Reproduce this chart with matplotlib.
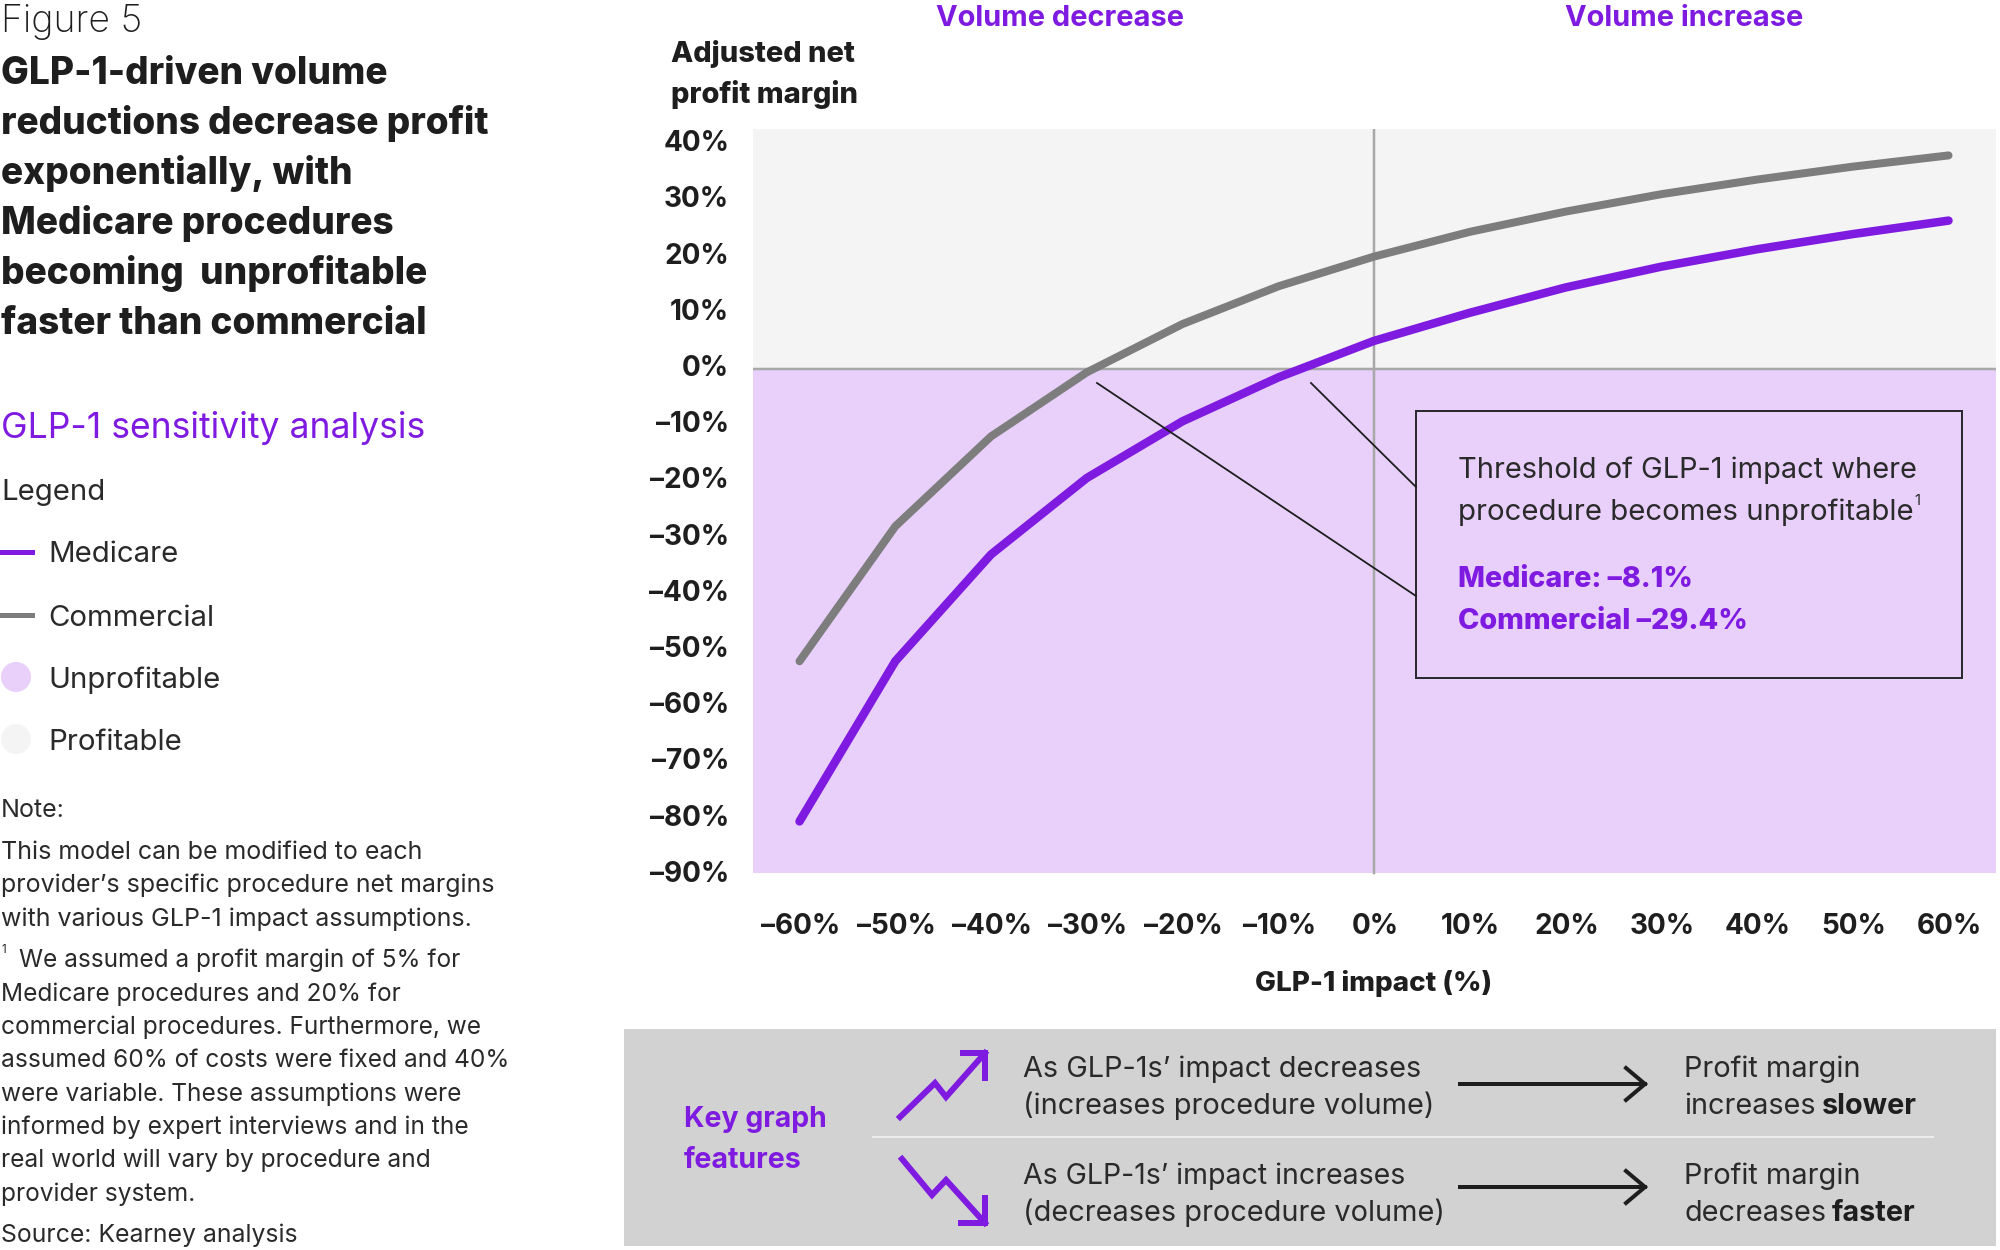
import matplotlib
matplotlib.use("Agg")
import matplotlib.pyplot as plt
from matplotlib.lines import Line2D
from matplotlib.patches import Rectangle, Circle
from matplotlib.transforms import ScaledTranslation

# Series read as percent margin against percent change in volume
impact = [-60, -50, -40, -30, -20, -10, 0, 10, 20, 30, 40, 50, 60]
medicare = [-80.5, -52.0, -33.0, -19.4, -9.3, -1.5, 5.0, 10.0, 14.5, 18.2, 21.3, 24.0, 26.4]
commercial = [-52.0, -28.0, -12.0, -0.6, 8.0, 14.7, 20.0, 24.4, 28.0, 31.1, 33.7, 36.0, 38.0]
x_labels = ["–60%", "–50%", "–40%", "–30%", "–20%", "–10%", "0%", "10%", "20%",
            "30%", "40%", "50%", "60%"]
y_ticks = [40, 30, 20, 10, 0, -10, -20, -30, -40, -50, -60, -70, -80, -90]
y_labels = ["40%", "30%", "20%", "10%", "0%", "–10%", "–20%", "–30%", "–40%", "–50%",
            "–60%", "–70%", "–80%", "–90%"]

title_lines = ["GLP-1-driven volume", "reductions decrease profit", "exponentially, with",
               "Medicare procedures", "becoming  unprofitable", "faster than commercial"]
note_lines = ["This model can be modified to each", "provider’s specific procedure net margins",
              "with various GLP-1 impact assumptions."]
footnote_lines = ["Medicare procedures and 20% for", "commercial procedures. Furthermore, we",
                  "assumed 60% of costs were fixed and 40%", "were variable. These assumptions were",
                  "informed by expert interviews and in the", "real world will vary by procedure and",
                  "provider system."]

PURPLE = "#7f1ae0"
INK = "#1e1e1e"
BODY_INK = "#2a2a2a"
GREY_LINE = "#7d7d7d"
UNPROFIT = "#e8d0fb"
PROFIT = "#f4f4f4"
PANEL = "#d2d2d2"
RULE = "#a8a8a8"
FONT = "Inter"
BODY = "normal"

W, H = 2000, 1250
fig = plt.figure(figsize=(W / 100, H / 100), dpi=100, facecolor="white")

# Full-figure layer measured in pixels for text blocks and callouts
page = fig.add_axes([0, 0, 1, 1], zorder=3)
page.set_xlim(0, W)
page.set_ylim(H, 0)
page.axis("off")
page.patch.set_alpha(0)


def px(v):
    return v * 0.72


def label(x, y, s, size, weight="normal", color=None, ha="left"):
    if color is None:
        color = BODY_INK if weight == BODY else INK
    page.text(x, y, s, fontsize=px(size), fontweight=weight, color=color, ha=ha,
              va="baseline", family=FONT)


def path(xs, ys, width, color=INK, **kw):
    page.add_line(Line2D(xs, ys, lw=px(width), color=color, **kw))


# Main chart; the axes run to -90 so that tick is kept, the shaded area stops just short of it
left, right, top, bottom = 753, 1996, 129, 874.8
ax = fig.add_axes([left / W, 1 - bottom / H, (right - left) / W, (bottom - top) / H], zorder=1)
ax.axhspan(0, 42.7, color=PROFIT, lw=0)
ax.axhspan(-89.6, 0, color=UNPROFIT, lw=0)
ax.axhline(0, color=RULE, lw=px(2.5))
ax.plot([0, 0], [-89.6, 42.7], color=RULE, lw=px(2.5))
ax.plot(impact, commercial, color=GREY_LINE, lw=px(8), solid_joinstyle="miter", solid_capstyle="round")
ax.plot(impact, medicare, color=PURPLE, lw=px(8.5), solid_joinstyle="miter", solid_capstyle="round")
for s in ax.spines.values():
    s.set_visible(False)
ax.set_xticks(impact, x_labels)
ax.set_yticks(y_ticks, y_labels)
ax.set_xlim(-64.86, 64.96)
ax.set_ylim(-90, 42.7)
ax.tick_params(length=0)
for t in ax.get_xticklabels():
    t.set(fontsize=px(28), fontweight="bold", family=FONT, color=INK, va="baseline")
    t.set_transform(t.get_transform() + ScaledTranslation(0.01, -0.54, fig.dpi_scale_trans))
for t in ax.get_yticklabels():
    t.set(fontsize=px(28), fontweight="bold", family=FONT, color=INK, va="baseline", ha="right")
    t.set_transform(t.get_transform() + ScaledTranslation(-0.19, -0.07, fig.dpi_scale_trans))

# Headings around the plot
label(1060, 26, "Volume decrease", 29, "bold", PURPLE, "center")
label(1684, 26, "Volume increase", 29, "bold", PURPLE, "center")
label(671, 62, "Adjusted net", 29, "heavy")
label(671, 103, "profit margin", 29, "heavy")
label(1374, 991, "GLP-1 impact (%)", 27.8, "heavy", INK, "center")

# Callout box and leaders
page.add_patch(Rectangle((1416, 411), 546, 267, fill=False, ec="#2a2a30", lw=px(2)))
path([1311, 1416], [383, 487], 1.8)
path([1097, 1416], [383, 596], 1.8)
label(1458, 478, "Threshold of GLP-1 impact where", 29.0, BODY)
label(1458, 520, "procedure becomes unprofitable", 29.3, BODY)
label(1914, 505, "1", 15, BODY)
label(1458, 587, "Medicare: –8.1%", 28.6, "heavy", PURPLE)
label(1458, 629, "Commercial –29.4%", 28.8, "heavy", PURPLE)

# Left column
label(1, 32, "Figure 5", 37.5, "light")
for i, line in enumerate(title_lines):
    label(1, 84 + i * 50, line, 37, "heavy")
label(1, 438, "GLP-1 sensitivity analysis", 35.6, BODY, PURPLE)
label(1, 500, "Legend", 29.4, BODY)
legend_y = [552, 615, 677, 739]
legend_names = ["Medicare", "Commercial", "Unprofitable", "Profitable"]
for y, name in zip(legend_y, legend_names):
    label(48, y + 10.5, name, 29.4, BODY)
path([2, 32], [552, 552], 5, PURPLE)
path([2, 32], [615, 615], 5, GREY_LINE)
page.add_patch(Circle((16, 677), 15, fc=UNPROFIT, ec="none"))
page.add_patch(Circle((16, 739), 15, fc=PROFIT, ec="none"))

label(1, 817, "Note:", 25, BODY)
for y, line in zip([859, 892, 926], note_lines):
    label(1, y, line, 25, BODY)
label(1, 953, "1", 12, BODY)
label(19, 967, "We assumed a profit margin of 5% for", 24.4, BODY)
for y, line in zip([1001, 1034, 1067, 1101, 1134, 1167, 1201], footnote_lines):
    label(1, y, line, 24.5, BODY)
label(1, 1242, "Source: Kearney analysis", 24.8, BODY)

# Key features strip
page.add_patch(Rectangle((624, 1029), 1372, 217, fc=PANEL, ec="none", zorder=0))
path([873, 1933], [1137, 1137], 2, "#ececec")
label(684, 1127, "Key graph", 28.4, "bold", PURPLE)
label(684, 1168, "features", 28.6, "bold", PURPLE)

path([900, 935, 946, 985], [1117, 1083, 1097, 1053], 6, PURPLE, solid_joinstyle="miter")
path([963, 985, 985], [1053, 1053, 1078], 6, PURPLE, solid_joinstyle="miter")
path([902, 932, 946, 985], [1159, 1195, 1180, 1223], 6, PURPLE, solid_joinstyle="miter")
path([961, 985, 985], [1223, 1223, 1198], 6, PURPLE, solid_joinstyle="miter")

label(1023, 1077, "As GLP-1s’ impact decreases", 28.9, BODY)
label(1023, 1114, "(increases procedure volume)", 28.9, BODY)
label(1023, 1184, "As GLP-1s’ impact increases", 28.5, BODY)
label(1023, 1221, "(decreases procedure volume)", 28.9, BODY)
label(1684, 1077, "Profit margin", 29, BODY)
label(1684, 1114, "increases", 28.8, BODY)
label(1822, 1114, "slower", 28.8, "bold")
label(1684, 1184, "Profit margin", 29, BODY)
label(1684, 1221, "decreases", 28.8, BODY)
label(1832, 1221, "faster", 28.8, "bold")

for y in (1084, 1187):
    path([1460, 1645], [y, y], 4)
    path([1626, 1645, 1626], [y - 16, y, y + 16], 4, solid_joinstyle="miter")

fig.savefig("out.png", dpi=100)
